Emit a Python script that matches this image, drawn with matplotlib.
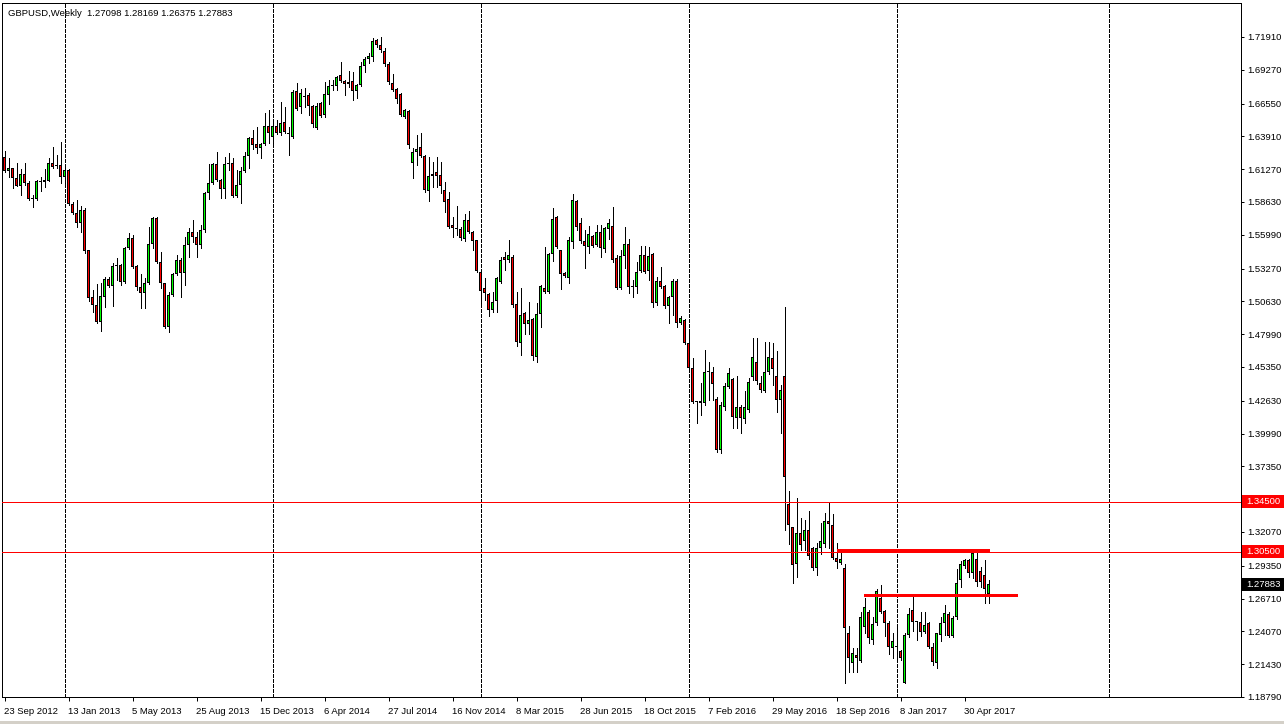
import matplotlib
matplotlib.use("Agg")
import matplotlib.pyplot as plt
import matplotlib.transforms as mtransforms
from matplotlib.patches import Rectangle
import numpy as np

plt.rcParams['lines.scale_dashes'] = False
plt.rcParams['font.family'] = ['Liberation Sans', 'DejaVu Sans']

# ---------------- data ----------------
symbol = "GBPUSD,Weekly"
header_ohlc = ["1.27098", "1.28169", "1.26375", "1.27883"]

opens = [
    1.6228, 1.6115, 1.6134, 1.6053, 1.5995, 1.6088, 1.6013, 1.5893, 1.5887, 1.6024,
    1.6021, 1.6035, 1.6174, 1.6164, 1.6160, 1.6067, 1.6121, 1.5847, 1.5777, 1.5697,
    1.5799, 1.5477, 1.5101, 1.5034, 1.4900, 1.5101, 1.5241, 1.5190, 1.5350, 1.5356,
    1.5222, 1.5490, 1.5571, 1.5348, 1.5182, 1.5128, 1.5208, 1.5522, 1.5732, 1.5383,
    1.5208, 1.4854, 1.5115, 1.5281, 1.5396, 1.5289, 1.5517, 1.5619, 1.5584, 1.5517,
    1.5638, 1.5938, 1.6019, 1.6166, 1.6040, 1.5965, 1.6166, 1.6174, 1.5914, 1.5997,
    1.6112, 1.6233, 1.6375, 1.6327, 1.6295, 1.6327, 1.6477, 1.6389, 1.6477, 1.6416,
    1.6504, 1.6416, 1.6389, 1.6756, 1.6625, 1.6711, 1.6722, 1.6638, 1.6456, 1.6662,
    1.6563, 1.6724, 1.6797, 1.6797, 1.6885, 1.6837, 1.6810, 1.6837, 1.6759, 1.6805,
    1.6957, 1.7011, 1.7027, 1.7167, 1.7124, 1.7078, 1.6974, 1.6818, 1.6770, 1.6732,
    1.6550, 1.6595, 1.6174, 1.6269, 1.6308, 1.6233, 1.5954, 1.6072, 1.6102, 1.6080,
    1.5960, 1.5887, 1.5678, 1.5646, 1.5646, 1.5566, 1.5718, 1.5619, 1.5557, 1.5300,
    1.5168, 1.5122, 1.4994, 1.5069, 1.5222, 1.5423, 1.5396, 1.5423, 1.5042, 1.4731,
    1.4967, 1.4881, 1.4919, 1.4618, 1.4959, 1.5168, 1.5141, 1.5442, 1.5740, 1.5477,
    1.5289, 1.5249, 1.5544, 1.5871, 1.5692, 1.5550, 1.5499, 1.5590, 1.5517, 1.5625,
    1.5482, 1.5646, 1.5673, 1.5415, 1.5168, 1.5429, 1.5522, 1.5185, 1.5182, 1.5311,
    1.5437, 1.5311, 1.5442, 1.5048, 1.5228, 1.5187, 1.5029, 1.5101, 1.5230, 1.4892,
    1.4913, 1.4726, 1.4524, 1.4256, 1.4259, 1.4243, 1.4494, 1.4497, 1.4275, 1.3867,
    1.4216, 1.4377, 1.4436, 1.4122, 1.4216, 1.4114, 1.4189, 1.4457, 1.4578, 1.4409,
    1.4344, 1.4497, 1.4605, 1.4463, 1.4270, 1.4463, 1.3433, 1.3245, 1.2947, 1.3197,
    1.3138, 1.3223, 1.3076, 1.2920, 1.3076, 1.3108, 1.3296, 1.3264, 1.2995, 1.2960,
    1.2915, 1.2392, 1.2151, 1.2218, 1.2172, 1.2445, 1.2561, 1.2338, 1.2478, 1.2679,
    1.2572, 1.2478, 1.2271, 1.2282, 1.2250, 1.1995, 1.2378, 1.2580, 1.2486, 1.2486,
    1.2405, 1.2472, 1.2284, 1.2156, 1.2378, 1.2478, 1.2545, 1.2373, 1.2526, 1.2821,
    1.2934, 1.2982, 1.2880, 1.2990, 1.2893, 1.2861, 1.27098,
]
highs = [
    1.6274, 1.6214, 1.6140, 1.6174, 1.6126, 1.6174, 1.6035, 1.5919, 1.6040, 1.6067,
    1.6129, 1.6214, 1.6308, 1.6241, 1.6343, 1.6161, 1.6130, 1.5866, 1.5879, 1.5831,
    1.5812, 1.5480, 1.5155, 1.5203, 1.5208, 1.5262, 1.5262, 1.5369, 1.5415, 1.5360,
    1.5504, 1.5611, 1.5598, 1.5352, 1.5281, 1.5249, 1.5665, 1.5745, 1.5745, 1.5463,
    1.5215, 1.5141, 1.5289, 1.5436, 1.5410, 1.5579, 1.5651, 1.5718, 1.5619, 1.5678,
    1.5946, 1.6166, 1.6174, 1.6263, 1.6045, 1.6228, 1.6255, 1.6214, 1.6121, 1.6147,
    1.6268, 1.6389, 1.6443, 1.6469, 1.6335, 1.6577, 1.6603, 1.6523, 1.6523, 1.6670,
    1.6630, 1.6469, 1.6764, 1.6823, 1.6770, 1.6778, 1.6738, 1.6645, 1.6657, 1.6670,
    1.6826, 1.6845, 1.6845, 1.6880, 1.6992, 1.6845, 1.6917, 1.6907, 1.6815, 1.6992,
    1.7033, 1.7059, 1.7180, 1.7175, 1.7194, 1.7100, 1.6992, 1.6890, 1.6780, 1.6738,
    1.6611, 1.6600, 1.6295, 1.6402, 1.6416, 1.6240, 1.6223, 1.6188, 1.6223, 1.6182,
    1.6022, 1.5941, 1.5745, 1.5831, 1.5660, 1.5764, 1.5793, 1.5630, 1.5560, 1.5310,
    1.5249, 1.5130, 1.5141, 1.5260, 1.5423, 1.5458, 1.5557, 1.5437, 1.5136, 1.5168,
    1.4980, 1.5061, 1.4930, 1.5053, 1.5195, 1.5504, 1.5450, 1.5812, 1.5750, 1.5480,
    1.5300, 1.5584, 1.5928, 1.5880, 1.5732, 1.5638, 1.5673, 1.5600, 1.5678, 1.5678,
    1.5665, 1.5724, 1.5820, 1.5437, 1.5477, 1.5665, 1.5565, 1.5235, 1.5383, 1.5509,
    1.5509, 1.5504, 1.5450, 1.5257, 1.5337, 1.5195, 1.5110, 1.5241, 1.5241, 1.4946,
    1.4920, 1.4806, 1.4605, 1.4265, 1.4409, 1.4672, 1.4578, 1.4538, 1.4290, 1.4251,
    1.4404, 1.4524, 1.4450, 1.4463, 1.4230, 1.4345, 1.4450, 1.4766, 1.4766, 1.4462,
    1.4739, 1.4739, 1.4731, 1.4667, 1.4390, 1.5021, 1.3540, 1.3250, 1.3478, 1.3317,
    1.3304, 1.3376, 1.3090, 1.3116, 1.3282, 1.3357, 1.3451, 1.3349, 1.3121, 1.3063,
    1.2947, 1.2451, 1.2276, 1.2271, 1.2566, 1.2673, 1.2580, 1.2526, 1.2748, 1.2781,
    1.2580, 1.2490, 1.2397, 1.2445, 1.2260, 1.2392, 1.2593, 1.2700, 1.2490, 1.2566,
    1.2566, 1.2486, 1.2311, 1.2392, 1.2526, 1.2620, 1.2560, 1.2530, 1.2907, 1.2974,
    1.2987, 1.2990, 1.3049, 1.3049, 1.2928, 1.2982, 1.28169,
]
lows = [
    1.6107, 1.6062, 1.5973, 1.5990, 1.5919, 1.6000, 1.5880, 1.5820, 1.5880, 1.5952,
    1.5986, 1.6030, 1.6140, 1.6140, 1.6013, 1.5986, 1.5840, 1.5765, 1.5665, 1.5624,
    1.5455, 1.5069, 1.4980, 1.4887, 1.4825, 1.5021, 1.5180, 1.5029, 1.5235, 1.5195,
    1.5215, 1.5485, 1.5335, 1.5155, 1.5013, 1.5007, 1.5200, 1.5490, 1.5369, 1.5168,
    1.4850, 1.4814, 1.5110, 1.5275, 1.5101, 1.5195, 1.5418, 1.5538, 1.5423, 1.5490,
    1.5624, 1.5884, 1.6010, 1.6035, 1.5893, 1.5893, 1.6121, 1.5906, 1.5906, 1.5852,
    1.6107, 1.6134, 1.6290, 1.6255, 1.6214, 1.6320, 1.6335, 1.6335, 1.6410, 1.6402,
    1.6420, 1.6241, 1.6375, 1.6603, 1.6582, 1.6630, 1.6563, 1.6469, 1.6451, 1.6550,
    1.6550, 1.6652, 1.6764, 1.6764, 1.6832, 1.6724, 1.6790, 1.6684, 1.6697, 1.6800,
    1.6912, 1.6979, 1.7000, 1.7110, 1.7073, 1.6960, 1.6813, 1.6759, 1.6657, 1.6555,
    1.6540, 1.6300, 1.6054, 1.6161, 1.6225, 1.5946, 1.5874, 1.5986, 1.5986, 1.5938,
    1.5785, 1.5650, 1.5584, 1.5597, 1.5558, 1.5550, 1.5610, 1.5477, 1.5300, 1.5029,
    1.5071, 1.4948, 1.4980, 1.4980, 1.5208, 1.5316, 1.5380, 1.5020, 1.4704, 1.4632,
    1.4801, 1.4801, 1.4592, 1.4573, 1.4854, 1.5130, 1.5130, 1.5391, 1.5490, 1.5163,
    1.5260, 1.5214, 1.5490, 1.5640, 1.5530, 1.5330, 1.5450, 1.5500, 1.5510, 1.5423,
    1.5463, 1.5563, 1.5380, 1.5160, 1.5160, 1.5330, 1.5133, 1.5101, 1.5133, 1.5300,
    1.5290, 1.5236, 1.5021, 1.5030, 1.5170, 1.5010, 1.4892, 1.4954, 1.4860, 1.4880,
    1.4720, 1.4497, 1.4248, 1.4082, 1.4149, 1.4229, 1.4270, 1.4270, 1.3854, 1.3843,
    1.4189, 1.4370, 1.4047, 1.4042, 1.4001, 1.4082, 1.4170, 1.4430, 1.4398, 1.4337,
    1.4330, 1.4480, 1.4390, 1.4176, 1.4007, 1.3223, 1.3111, 1.2794, 1.2848, 1.3063,
    1.3063, 1.2990, 1.2901, 1.2861, 1.3030, 1.3090, 1.3076, 1.2990, 1.2920, 1.2950,
    1.1989, 1.2083, 1.2083, 1.2083, 1.2164, 1.2392, 1.2312, 1.2306, 1.2460, 1.2553,
    1.2370, 1.2223, 1.2196, 1.2191, 1.2177, 1.1989, 1.2360, 1.2410, 1.2338, 1.2373,
    1.2392, 1.2270, 1.2137, 1.2110, 1.2333, 1.2378, 1.2365, 1.2365, 1.2504, 1.2767,
    1.2920, 1.2848, 1.2834, 1.2773, 1.2767, 1.2633, 1.26375,
]
closes = [
    1.6115, 1.6134, 1.6053, 1.5995, 1.6088, 1.6013, 1.5887, 1.5890, 1.6032, 1.6030,
    1.6040, 1.6174, 1.6147, 1.6155, 1.6067, 1.6121, 1.5847, 1.5772, 1.5697, 1.5799,
    1.5471, 1.5093, 1.5034, 1.4895, 1.5106, 1.5241, 1.5187, 1.5348, 1.5346, 1.5222,
    1.5496, 1.5571, 1.5343, 1.5176, 1.5128, 1.5208, 1.5522, 1.5732, 1.5383, 1.5208,
    1.4854, 1.5115, 1.5281, 1.5396, 1.5289, 1.5517, 1.5619, 1.5579, 1.5517, 1.5638,
    1.5938, 1.6019, 1.6166, 1.6040, 1.5965, 1.6166, 1.6174, 1.5914, 1.5997, 1.6112,
    1.6233, 1.6375, 1.6322, 1.6295, 1.6327, 1.6477, 1.6416, 1.6477, 1.6416, 1.6496,
    1.6429, 1.6413, 1.6751, 1.6614, 1.6738, 1.6714, 1.6638, 1.6491, 1.6638, 1.6558,
    1.6730, 1.6797, 1.6800, 1.6872, 1.6840, 1.6810, 1.6832, 1.6759, 1.6805, 1.6957,
    1.7014, 1.7038, 1.7159, 1.7124, 1.7086, 1.6971, 1.6826, 1.6764, 1.6689, 1.6563,
    1.6603, 1.6322, 1.6263, 1.6287, 1.6236, 1.5960, 1.6072, 1.6088, 1.6075, 1.5995,
    1.5866, 1.5665, 1.5657, 1.5643, 1.5571, 1.5718, 1.5624, 1.5552, 1.5310, 1.5149,
    1.5128, 1.4994, 1.5056, 1.5249, 1.5396, 1.5396, 1.5437, 1.5034, 1.4739, 1.4954,
    1.4879, 1.4913, 1.4626, 1.4959, 1.5187, 1.5141, 1.5445, 1.5726, 1.5498, 1.5281,
    1.5270, 1.5557, 1.5880, 1.5665, 1.5552, 1.5512, 1.5603, 1.5512, 1.5625, 1.5490,
    1.5651, 1.5692, 1.5396, 1.5168, 1.5425, 1.5522, 1.5182, 1.5182, 1.5303, 1.5437,
    1.5303, 1.5429, 1.5048, 1.5230, 1.5182, 1.5029, 1.5101, 1.5228, 1.4892, 1.4927,
    1.4731, 1.4524, 1.4256, 1.4250, 1.4243, 1.4497, 1.4492, 1.4395, 1.3867, 1.4229,
    1.4385, 1.4484, 1.4136, 1.4216, 1.4122, 1.4210, 1.4417, 1.4613, 1.4425, 1.4350,
    1.4497, 1.4618, 1.4516, 1.4270, 1.4350, 1.3653, 1.3264, 1.2941, 1.3197, 1.3103,
    1.3223, 1.3014, 1.2915, 1.3076, 1.3138, 1.3296, 1.3272, 1.3001, 1.2968, 1.2987,
    1.2437, 1.2191, 1.2231, 1.2191, 1.2526, 1.2606, 1.2352, 1.2467, 1.2732, 1.2566,
    1.2478, 1.2284, 1.2330, 1.2290, 1.2196, 1.2378, 1.2545, 1.2480, 1.2484, 1.2405,
    1.2459, 1.2284, 1.2164, 1.2392, 1.2478, 1.2553, 1.2373, 1.2518, 1.2799, 1.2947,
    1.2982, 1.2880, 1.3036, 1.2807, 1.2802, 1.2745, 1.27883,
]

# bottom axis labels (every 16 weekly bars, starting at bar 0)
date_labels = ["23 Sep 2012", "13 Jan 2013", "5 May 2013", "25 Aug 2013",
               "15 Dec 2013", "6 Apr 2014", "27 Jul 2014", "16 Nov 2014",
               "8 Mar 2015", "28 Jun 2015", "18 Oct 2015", "7 Feb 2016",
               "29 May 2016", "18 Sep 2016", "8 Jan 2017", "30 Apr 2017"]
label_step = 16
# bars holding the first week of each year (period separators)
year_start_bars = [15, 67, 119, 171, 223, 276]

price_ticks = [1.71910, 1.69270, 1.66550, 1.63910, 1.61270, 1.58630, 1.55990,
               1.53270, 1.50630, 1.47990, 1.45350, 1.42630, 1.39990, 1.37350,
               1.32070, 1.29350, 1.26710, 1.24070, 1.21430, 1.18790]

h_levels = [1.34500, 1.30500]                 # thin horizontal lines (red tags)
seg_levels = [1.3060, 1.2700]                 # thick drawn segments
seg_start = [208.0, 214.9]
seg_end = [246.2, 253.1]
current_price = 1.27883

# ---------------- layout ----------------
W, H, DPI = 1284, 724, 100
fig = plt.figure(figsize=(W / DPI, H / DPI), dpi=DPI)
fig.patch.set_facecolor('white')

px_l, px_r, px_t, px_b = 2.0, 1241.0, 3.0, 697.0
ax = fig.add_axes([px_l / W, 1 - px_b / H, (px_r - px_l) / W, (px_b - px_t) / H])

# pixel calibration of the MT4 window
bar_px0, bar_px = 4.5, 4.0
y_ref_px, p_ref, px_per_unit = 37.0, 1.71910, 1242.5
ax.set_xlim((px_l - bar_px0) / bar_px, (px_r - bar_px0) / bar_px)
ax.set_ylim(p_ref - (px_b - y_ref_px) / px_per_unit, p_ref - (px_t - y_ref_px) / px_per_unit)
one_px_x = 1.0 / bar_px
one_px_y = 1.0 / px_per_unit
LW1 = 72.0 / DPI  # one pixel in points

o = np.array(opens); h = np.array(highs); l = np.array(lows); c = np.array(closes)
idx = np.arange(len(o))
up = c >= o

# wicks
ax.vlines(idx, l, h, color='black', linewidth=LW1, antialiased=False, zorder=3)
# bodies: black 3px box with a 1px coloured core
bot = np.minimum(o, c)
hgt = np.maximum(np.abs(c - o), one_px_y)
ax.bar(idx, hgt, bottom=bot, width=3 * one_px_x, color='black',
       edgecolor='none', antialiased=False, zorder=4)
core_h = hgt - 2 * one_px_y
has_core = core_h > 0
for mask, col in ((up & has_core, '#00ff00'), (~up & has_core, '#ff0000')):
    ax.bar(idx[mask], core_h[mask], bottom=bot[mask] + one_px_y, width=one_px_x,
           color=col, edgecolor='none', antialiased=False, zorder=5)

# period separators
for b in year_start_bars:
    ax.axvline(b, color='black', linewidth=LW1, linestyle=(0, (3 * LW1, 2 * LW1)),
               antialiased=False, zorder=1)

# horizontal levels
for lv in h_levels:
    ax.axhline(lv, color='#ff0000', linewidth=LW1, antialiased=False, zorder=6)
for lv, s, e in zip(seg_levels, seg_start, seg_end):
    ax.hlines(lv, s, e, color='#ff0000', linewidth=3 * LW1, antialiased=False, zorder=7)

# axes styling
for sp in ax.spines.values():
    sp.set_color('black')
    sp.set_linewidth(LW1)
    sp.set_antialiased(False)
ax.set_facecolor('white')

ax.yaxis.tick_right()
ax.set_yticks(price_ticks)
ax.set_yticklabels([f"{v:.5f}" for v in price_ticks])
ax.tick_params(axis='y', direction='out', length=2.5, width=LW1, pad=2,
               labelsize=6.8, colors='black')

xt = [i * label_step for i in range(len(date_labels))]
ax.set_xticks(xt)
ax.set_xticklabels(date_labels, ha='left')
ax.tick_params(axis='x', direction='out', length=3, width=LW1, pad=4.2,
               labelsize=6.8, colors='black')
for lab in ax.get_xticklabels():
    lab.set_horizontalalignment('left')

# price tags on the right axis
trans = mtransforms.blended_transform_factory(ax.transAxes, ax.transData)
tag_h = 13 * one_px_y
tag_x0 = (px_r + 1 - px_l) / (px_r - px_l)
tag_w = (W - px_r) / (px_r - px_l)
txt_x = (1246 - px_l) / (px_r - px_l)
tags = [(h_levels[0], '#ff0000'), (h_levels[1], '#ff0000'), (current_price, '#000000')]
for val, col in tags:
    ax.add_patch(Rectangle((tag_x0, val - tag_h / 2), tag_w, tag_h, transform=trans,
                           facecolor=col, edgecolor='none', clip_on=False, zorder=10))
    ax.text(txt_x, val, f"{val:.5f}", transform=trans, color='white', fontsize=6.8,
            ha='left', va='center', zorder=11, clip_on=False)

# header
fig.text(8 / W, 1 - 13 / H, symbol + "  " + " ".join(header_ohlc), fontsize=6.8,
         color='black', ha='left', va='center')

# bottom window edge
fig.add_artist(Rectangle((0, 0), 1, 3 / H, transform=fig.transFigure,
                         facecolor='#d4d0c8', edgecolor='none'))

fig.savefig('out.png', dpi=DPI, facecolor='white')
